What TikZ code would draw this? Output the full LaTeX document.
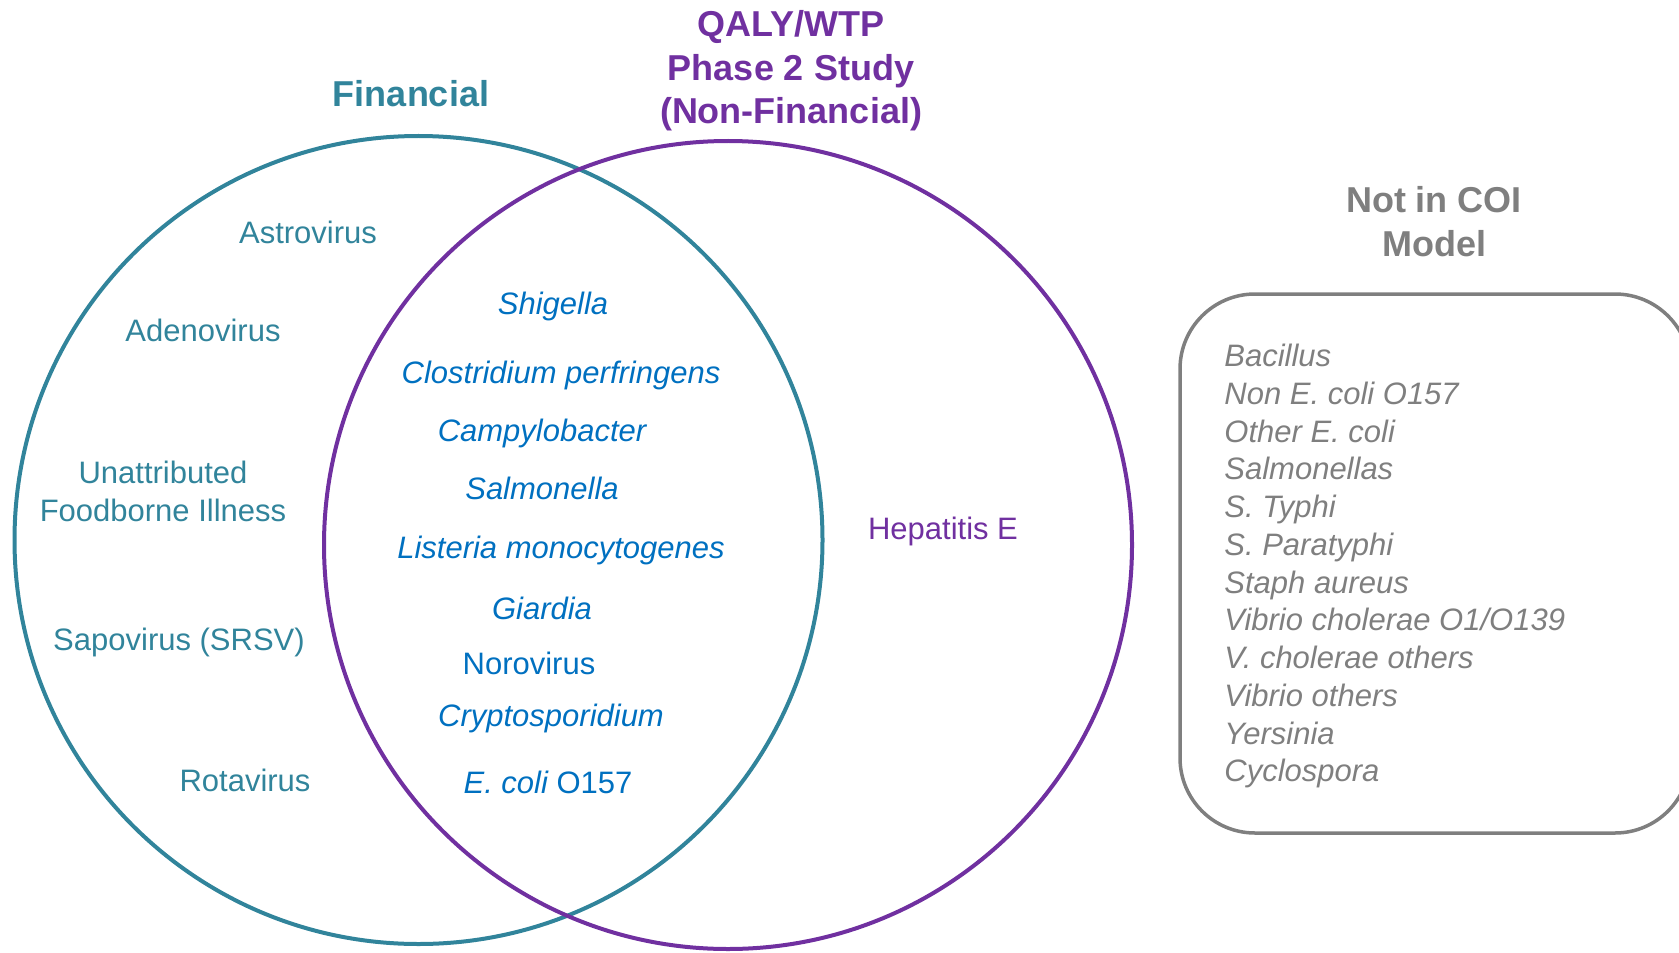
\documentclass[tikz,border=0pt]{standalone}
\usepackage{fontspec}
\setmainfont{Liberation Sans}
\usetikzlibrary{positioning}
\definecolor{vteal}{HTML}{31849B}
\definecolor{vpurple}{HTML}{7030A0}
\definecolor{vblue}{HTML}{0070C0}
\definecolor{vgray}{HTML}{7F7F7F}
\tikzset{
  ring/.style={circle, draw, line width=2pt, minimum size=404pt, inner sep=0pt},
  head/.style={font=\fontsize{18}{21.75}\selectfont\bfseries, align=center},
  txt/.style={font=\fontsize{15.5}{19}\selectfont, text height=0.72em, text depth=0.21em,
              inner sep=0pt, yshift=-3pt},
  fintext/.style={txt, vteal, align=center},
  bothtext/.style={txt, vblue, font=\fontsize{15.5}{19}\selectfont\itshape},
  listtext/.style={txt, vgray, anchor=west, font=\fontsize{15.5}{19}\selectfont\itshape},
  listbox/.style={draw=vgray, line width=1.75pt, rounded corners=37.5pt,
                  minimum width=255pt, minimum height=269.5pt, inner sep=0pt},
}
\begin{document}
\begin{tikzpicture}[x=0.5pt, y=-0.5pt]
  \useasboundingbox (0,0) rectangle (1679,952);
  \clip (0,0) rectangle (1679,952);
  % the two sets
  \node[ring, draw=vteal] (fin) at (418.5,540) {};
  \node[ring, draw=vpurple] (qaly) at (728,545) {};
  \node[head, vteal] (finhead) at (411,94) {Financial};
  \node[head, vpurple] (qalyhead) at (791,71) {QALY/WTP\\Phase 2 Study\\(Non-Financial)};
  % financial only
  \node[fintext] (astro) at (308,232) {Astrovirus};
  \node[fintext] (adeno) at (203,330) {Adenovirus};
  \node[fintext, text height=, text depth=] (unattr) at (163,485.5) {Unattributed\\Foodborne Illness};
  \node[fintext] (sapo) at (179,639) {Sapovirus (SRSV)};
  \node[fintext] (rota) at (245,780) {Rotavirus};
  % both
  \node[bothtext] (shig) at (553,303) {Shigella};
  \node[bothtext] (clos) at (561,372) {Clostridium perfringens};
  \node[bothtext] (campy) at (542,430) {Campylobacter};
  \node[bothtext] (salm) at (542,488) {Salmonella};
  \node[bothtext] (list) at (561,547) {Listeria monocytogenes};
  \node[bothtext] (giar) at (542,608) {Giardia};
  \node[bothtext, font=\fontsize{15.5}{19}\selectfont\upshape] (noro) at (529,663) {Norovirus};
  \node[bothtext] (crypto) at (551,715) {Cryptosporidium};
  \node[bothtext] (ecoli) at (548,782) {E. coli \upshape O157};
  % non-financial only
  \node[txt, vpurple] (hepe) at (943,528) {Hepatitis E};
  % not in the model
  \node[head, vgray] (coihead) at (1434,221.5) {Not in COI\\Model};
  \node[listbox] (coibox) at (1435,563.5) {};
  \foreach \bug [count=\i from 0] in {Bacillus, Non E. coli O157, Other E. coli,
      Salmonellas, S. Typhi, S. Paratyphi, Staph aureus, Vibrio cholerae O1/O139,
      V. cholerae others, Vibrio others, Yersinia, Cyclospora}
    \node[listtext] (bug\i) at (1224,355.5+37.75*\i) {\bug};
\end{tikzpicture}
\end{document}
